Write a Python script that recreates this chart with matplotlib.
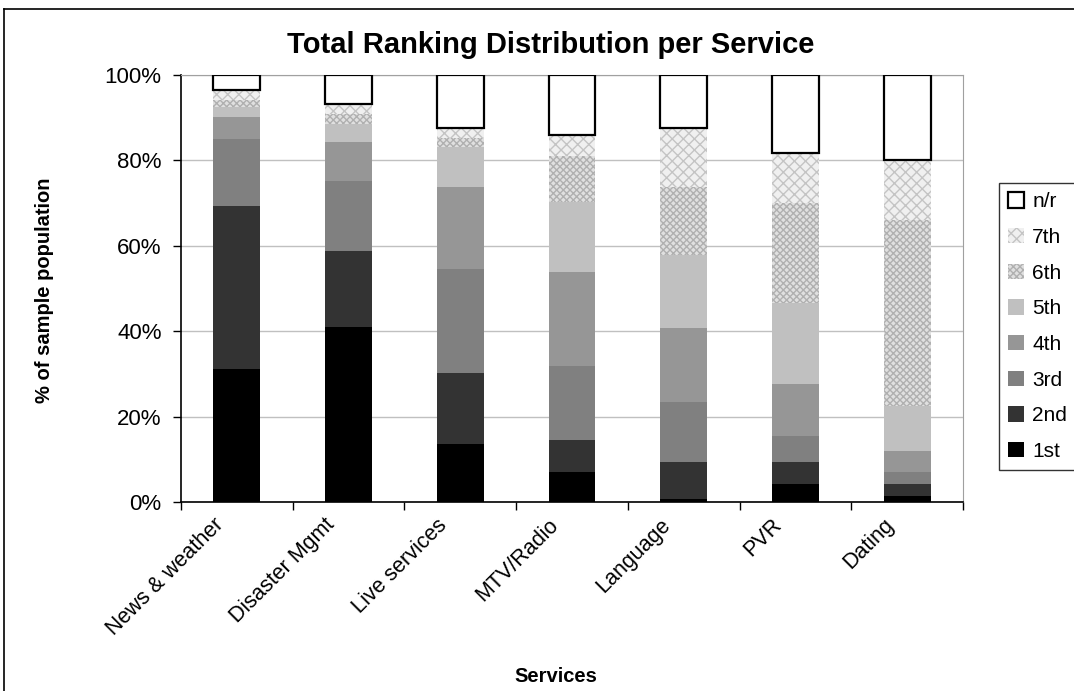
import matplotlib
matplotlib.use("Agg")
import matplotlib.pyplot as plt
import matplotlib.transforms as mtransforms
import numpy as np
from matplotlib.lines import Line2D

plt.rcParams['font.family'] = ['Liberation Sans', 'DejaVu Sans']

services = ["News & weather", "Disaster Mgmt", "Live services", "MTV/Radio",
            "Language", "PVR", "Dating"]
ranks = ["1st", "2nd", "3rd", "4th", "5th", "6th", "7th", "n/r"]

r1st = [31.2, 40.9, 13.7, 7.1, 0.8, 4.1, 1.5]
r2nd = [38.2, 17.9, 16.6, 7.5, 8.6, 5.3, 2.6]
r3rd = [15.6, 16.4, 24.3, 17.3, 14.1, 6.1, 3.0]
r4th = [5.2, 9.2, 19.2, 22.0, 17.3, 12.2, 4.9]
r5th = [2.4, 4.1, 9.4, 16.3, 17.1, 19.0, 10.4]
r6th = [1.5, 2.3, 2.0, 10.8, 15.8, 23.3, 43.7]
r7th = [2.4, 2.3, 2.5, 5.0, 14.0, 11.7, 14.0]
rnr = [3.5, 6.9, 12.3, 14.0, 12.3, 18.3, 19.9]

series = [r1st, r2nd, r3rd, r4th, r5th, r6th, r7th, rnr]
styles = [
    dict(facecolor="#000000", edgecolor="none", hatch=None),
    dict(facecolor="#333333", edgecolor="none", hatch=None),
    dict(facecolor="#808080", edgecolor="none", hatch=None),
    dict(facecolor="#969696", edgecolor="none", hatch=None),
    dict(facecolor="#c0c0c0", edgecolor="none", hatch=None),
    dict(facecolor="#e0e0e0", edgecolor="#b0b0b0", hatch="xxxxx", linewidth=0),
    dict(facecolor="#f0f0f0", edgecolor="#c4c4c4", hatch="xxx", linewidth=0),
    dict(facecolor="white", edgecolor="black", hatch=None, linewidth=1.6),
]

fig = plt.figure(figsize=(10.74, 6.91), dpi=100)
ax = fig.add_axes([181/1074, 1-502/691, 782/1074, 427/691])

x = np.arange(len(services))
bottom = np.zeros(len(services))
handles = []
for name, vals, st in zip(ranks, series, styles):
    b = ax.bar(x, vals, width=0.42, bottom=bottom, label=name, zorder=3, **st)
    handles.append(b)
    bottom += np.array(vals)

ax.set_xlim(-0.5, len(services) - 0.5)
ax.set_ylim(0, 100)
ax.set_yticks([0, 20, 40, 60, 80, 100])
ax.set_yticklabels([f"{v}%" for v in [0, 20, 40, 60, 80, 100]], fontsize=16)
ax.yaxis.grid(True, color="#c0c0c0", linewidth=1, zorder=0)
ax.set_axisbelow(True)

ax.set_xticks(x)
ax.set_xticklabels(services, rotation=45, ha="right", rotation_mode="anchor", fontsize=15.5)
ax.tick_params(axis="x", which="major", length=0, pad=9)
offset = mtransforms.ScaledTranslation(-24/100, 0, fig.dpi_scale_trans)
for lbl in ax.get_xticklabels():
    lbl.set_transform(lbl.get_transform() + offset)
ax.set_xticks(np.arange(-0.5, len(services), 1), minor=True)
ax.tick_params(axis="x", which="minor", length=6, width=1, direction="out")
ax.tick_params(axis="y", length=6, width=1, direction="out", pad=8)

for s in ["top", "right"]:
    ax.spines[s].set_color("#a0a0a0")
for s in ["left", "bottom"]:
    ax.spines[s].set_color("black")
    ax.spines[s].set_linewidth(1.2)

ax.set_ylabel("% of sample population", fontsize=14.5, fontweight="bold")
ax.yaxis.set_label_coords((45 - 181) / 782, (691 - 290 - (691 - 502)) / 427)
ax.set_xlabel("Services", fontsize=14.5, fontweight="bold")
ax.xaxis.set_label_coords((556 - 181) / 782, -(677 - 502) / 427)
ax.xaxis.label.set_va("center")
ax.yaxis.label.set_va("center")

fig.text(551/1074, 1-45/691, "Total Ranking Distribution per Service",
         ha="center", va="center", fontsize=21, fontweight="bold")

leg = fig.legend(handles[::-1], ranks[::-1], loc="upper left",
                 bbox_to_anchor=(999/1074, 1-183/691), fontsize=15,
                 frameon=True, fancybox=False, edgecolor="black",
                 handlelength=0.75, handleheight=0.75, handletextpad=0.4,
                 labelspacing=0.8, borderpad=0.45, borderaxespad=0)
leg.get_frame().set_linewidth(1.0)

# outer border
fig.add_artist(Line2D([4/1074, 4/1074], [0, 1-9/691], color="black", lw=1.2,
                      transform=fig.transFigure))
fig.add_artist(Line2D([4/1074, 1], [1-9/691, 1-9/691], color="black", lw=1.2,
                      transform=fig.transFigure))

fig.savefig("out.png", dpi=100)
